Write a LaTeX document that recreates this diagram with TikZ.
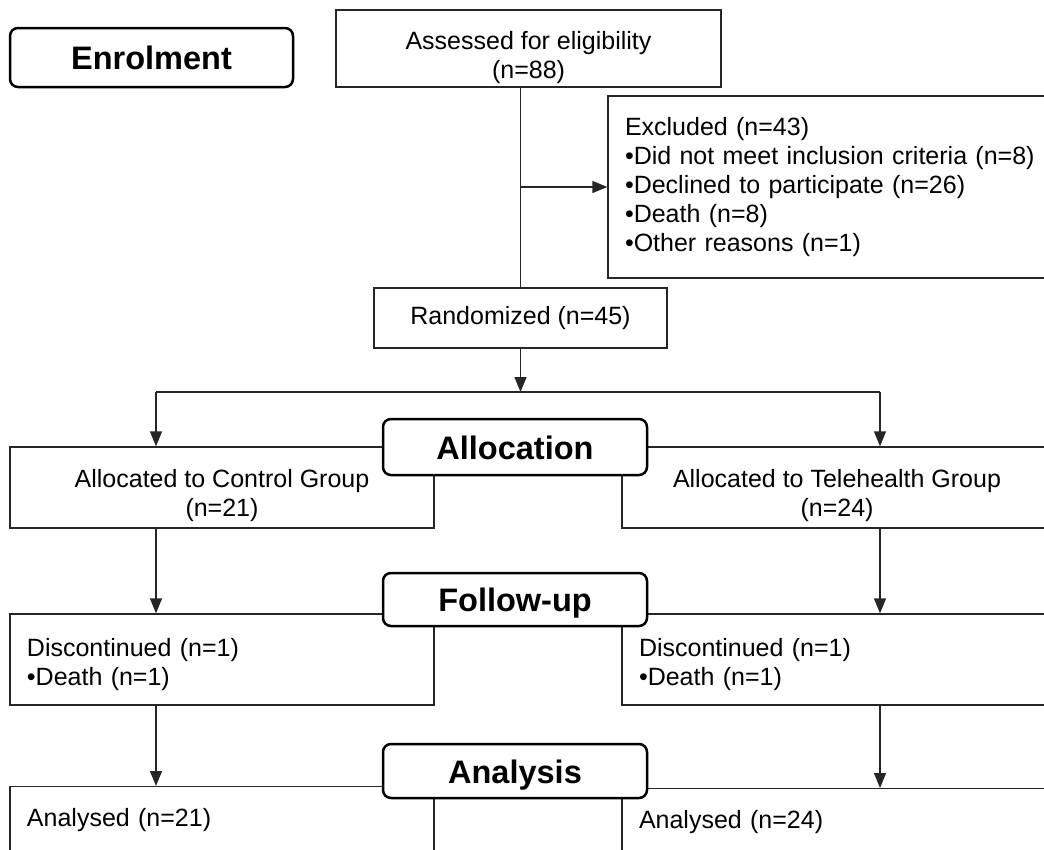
\documentclass[tikz,border=0pt]{standalone}
\usepackage{fontspec}
\setmainfont{Liberation Sans}
\usetikzlibrary{positioning,arrows.meta}
\newcommand{\tstrut}[1]{\rule{0pt}{#1}}
\tikzstyle{stagebox}=[rectangle, rounded corners=8pt, draw=black, fill=white, line width=2.5pt,
minimum width=264pt, minimum height=54pt, inner sep=0pt, text height=24pt, text depth=0pt,
font=\fontsize{32.5}{38}\selectfont\bfseries]
\tikzstyle{cbox}=[rectangle, draw=black!85, fill=white, line width=1.3pt, inner sep=0pt,
align=center, font=\fontsize{25}{29}\selectfont]
\tikzstyle{lbox}=[rectangle, draw=black!85, fill=white, line width=1.3pt, inner xsep=17pt,
inner ysep=0pt, align=left, font=\fontsize{25}{29}\selectfont]
\tikzstyle{line}=[-, line width=1.3pt, black!85]
\tikzstyle{arrline}=[-{Triangle[length=15pt,width=12pt]}, line width=1.3pt, black!85]
\begin{document}
\begin{tikzpicture}[x=1pt, y=-1pt, node distance=0pt]
\clip (0,0) rectangle (1044,849);

% Enrolment
    \node (assess) [cbox, minimum width=385pt, minimum height=77pt] at (528.5,48.5)
        {\tstrut{36pt}Assessed for eligibility\\(n=88)};
    \node (excl) [lbox, text width=429pt, minimum height=182pt] at (839.5,187)
        {Excluded (n=43)\\
         \textbullet Did not meet inclusion criteria (n=8)\\
         \textbullet Declined to participate (n=26)\\
         \textbullet Death (n=8)\\
         \textbullet Other reasons (n=1)};
    \node (rand) [cbox, minimum width=293pt, minimum height=60pt] at (520.5,318)
        {Randomized (n=45)};

% Allocation
    \node (ctrl) [cbox, minimum width=424pt, minimum height=81pt] at (222,487.5)
        {\tstrut{34pt}Allocated to Control Group\\(n=21)};
    \node (tele) [cbox, minimum width=430pt, minimum height=81pt] at (837,487.5)
        {\tstrut{34pt}Allocated to Telehealth Group\\(n=24)};

% Follow-up
    \node (fuctrl) [lbox, text width=390pt, minimum height=91pt] at (222,659.5)
        {\tstrut{28pt}Discontinued (n=1)\\ \textbullet Death (n=1)};
    \node (futele) [lbox, text width=396pt, minimum height=91pt] at (837,659.5)
        {\tstrut{28pt}Discontinued (n=1)\\ \textbullet Death (n=1)};

% Analysis
    \node (anctrl) [lbox, anchor=north, text width=390pt, inner ysep=9pt, text height=31pt, text depth=80pt] at (222,786)
        {Analysed (n=21)};
    \node (antele) [lbox, anchor=north, text width=396pt, inner ysep=9pt, text height=31pt, text depth=80pt] at (837,788)
        {Analysed (n=24)};

%% connectors
 \coordinate (split) at (520.5,392);
 \coordinate (lcol) at (156,392);
 \coordinate (rcol) at (880,392);

 \draw[line] (rand.north |- assess.south) -- (rand.north);
 \draw[arrline] (rand.north |- excl.west) -- (excl.west);
 \draw[arrline] (rand.south) -- (split);
 \draw[line] (lcol) -- (rcol);
 \draw[arrline] (lcol) -- (lcol |- ctrl.north);
 \draw[arrline] (rcol) -- (rcol |- tele.north);
 \draw[arrline] (lcol |- ctrl.south) -- (lcol |- fuctrl.north);
 \draw[arrline] (rcol |- tele.south) -- (rcol |- futele.north);
 \draw[arrline] (lcol |- fuctrl.south) -- (lcol |- anctrl.north);
 \draw[arrline] (rcol |- futele.south) -- (rcol |- antele.north);

% stage labels
    \node (enrol) [stagebox, minimum width=283pt, minimum height=59pt] at (151.5,57.5) {Enrolment};
    \node (alloc) [stagebox, minimum height=56pt] at (515,447) {Allocation};
    \node (follow) [stagebox, minimum height=53pt] at (515,599.5) {Follow-up};
    \node (analys) [stagebox] at (515,771) {Analysis};

\end{tikzpicture}
\end{document}
